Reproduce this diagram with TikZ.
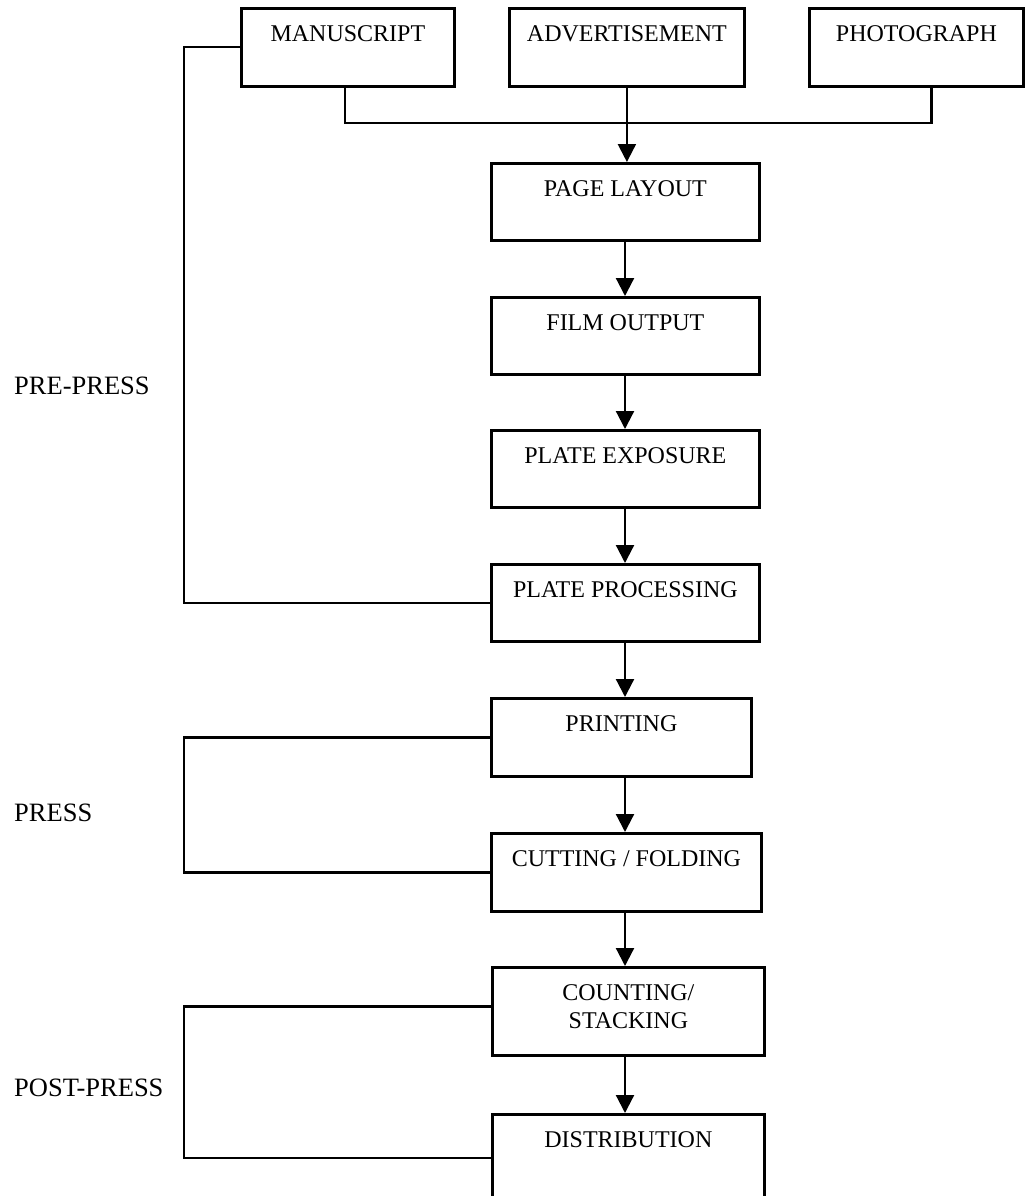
\documentclass[tikz,border=0pt]{standalone}
\usepackage{fontspec}
\setmainfont{Liberation Serif}
\usetikzlibrary{arrows.meta}
\begin{document}
\begin{tikzpicture}[x=1pt,y=-1pt,
  box/.style={draw, line width=2.8pt, rectangle, inner sep=0pt, anchor=north west,
    font=\fontsize{24}{28}\selectfont, text height=33pt},
  stage/.style={anchor=west, inner sep=0pt, font=\fontsize{26.5}{30}\selectfont},
  conn/.style={line width=2.2pt},
  arr/.style={line width=2.2pt, -{Triangle[length=18pt,width=18pt]}}
]
\useasboundingbox (0,0) rectangle (1032,1196);
% top row
\node[box, minimum width=213, minimum height=78, text depth=45pt] (ms) at (240,7) {MANUSCRIPT};
\node[box, minimum width=235, minimum height=78, text depth=45pt] (ad) at (508,7) {ADVERTISEMENT};
\node[box, minimum width=214, minimum height=78, text depth=45pt] (ph) at (808,7) {PHOTOGRAPH};
% main column
\node[box, minimum width=268, minimum height=77, text depth=44pt] (pl) at (490,162) {PAGE LAYOUT};
\node[box, minimum width=268, minimum height=77, text depth=44pt] (fo) at (490,296) {FILM OUTPUT};
\node[box, minimum width=268, minimum height=77, text depth=44pt] (pe) at (490,429) {PLATE EXPOSURE};
\node[box, minimum width=268, minimum height=77, text depth=44pt] (pp) at (490,563) {PLATE PROCESSING};
\node[box, minimum width=260, minimum height=78, text depth=45pt] (pr) at (490,697) {PRINTING};
\node[box, minimum width=270, minimum height=78, text depth=45pt] (cf) at (490,832) {CUTTING / FOLDING};
\node[box, minimum width=272, minimum height=88, text depth=55pt] (cs) at (491,966)
  {\begin{tabular}[t]{@{}c@{}}COUNTING/\\STACKING\end{tabular}};
\node[box, minimum width=272, minimum height=100, text depth=67pt] (di) at (491,1113) {DISTRIBUTION};
% stage labels
\node[stage] (lpre) at (14,386) {PRE-PRESS};
\node[stage] (lpress) at (14,813) {PRESS};
\node[stage] (lpost) at (14,1088) {POST-PRESS};
% bracket x
\coordinate (xb) at (184,0);
% top connectors
\draw[conn] ([xshift=-3pt]ms.south) |- (625,123) -| ([xshift=15pt]ph.south);
\draw[arr] (ad.south) -- (ad.south |- pl.north);
% main arrows
\draw[arr] (pl.south -| 625,0) -- (fo.north -| 625,0);
\draw[arr] (fo.south -| 625,0) -- (pe.north -| 625,0);
\draw[arr] (pe.south -| 625,0) -- (pp.north -| 625,0);
\draw[arr] (pp.south -| 625,0) -- (pr.north -| 625,0);
\draw[arr] (pr.south -| 625,0) -- (cf.north -| 625,0);
\draw[arr] (cf.south -| 625,0) -- (cs.north -| 625,0);
\draw[arr] (cs.south -| 625,0) -- (di.north -| 625,0);
% brackets
\draw[conn] (ms.west) -- (ms.west -| xb) -- (pp.west -| xb) -- (pp.west);
\draw[conn] (pr.west) -- (pr.west -| xb) -- (cf.west -| xb) -- (cf.west);
\draw[conn] ([yshift=5pt]cs.west) -- ([yshift=5pt]cs.west -| xb) -- ([yshift=-45pt]di.north west -| xb) -- ([yshift=-45pt]di.north west);
\end{tikzpicture}
\end{document}
